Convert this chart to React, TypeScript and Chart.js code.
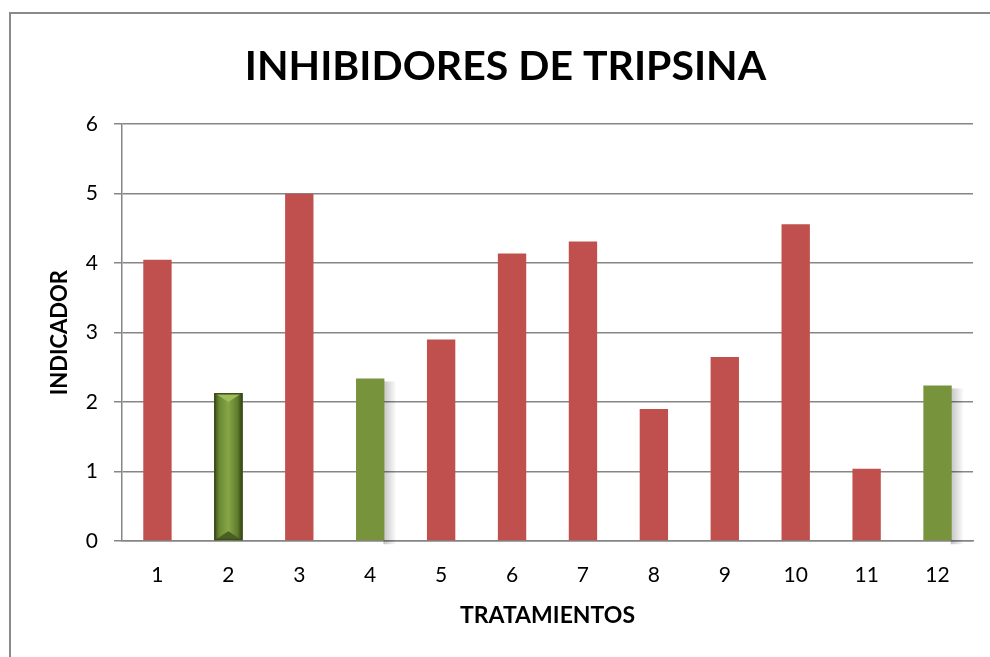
import React, { useEffect, useRef } from "react";
import { Chart, registerables } from "chart.js";

Chart.register(...registerables);

const TITLE = "INHIBIDORES DE TRIPSINA";
const X_TITLE = "TRATAMIENTOS";
const Y_TITLE = "INDICADOR";
const categories = ["1", "2", "3", "4", "5", "6", "7", "8", "9", "10", "11", "12"];
const values = [4.05, 2.13, 5.0, 2.34, 2.9, 4.14, 4.31, 1.9, 2.65, 4.56, 1.04, 2.24];
const barKinds = ["red", "bevel", "red", "shadow", "red", "red", "red", "red", "red", "red", "red", "shadow"];
const yTicks = [0, 1, 2, 3, 4, 5, 6];

const RED = "#C0504D";
const GREEN = "#77933C";
const FONT = "Lato, 'Open Sans', sans-serif";

const effectsPlugin = {
  id: "barEffects",
  beforeDatasetsDraw(chart: any) {
    const ctx = chart.ctx;
    const meta = chart.getDatasetMeta(0);
    meta.data.forEach((bar: any, i: number) => {
      if (barKinds[i] !== "shadow") return;
      const { x, y, base, width } = bar.getProps(["x", "y", "base", "width"], true);
      const right = x + width / 2;
      ctx.save();
      for (let k = 0; k < 6; k++) {
        ctx.fillStyle = `rgba(0,0,0,${0.22 - k * 0.035})`;
        ctx.fillRect(right + k * 2 - 1, y + 3, 2, base - y + 1);
      }
      ctx.restore();
    });
  },
  afterDatasetsDraw(chart: any) {
    const ctx = chart.ctx;
    const meta = chart.getDatasetMeta(0);
    meta.data.forEach((bar: any, i: number) => {
      if (barKinds[i] !== "bevel") return;
      const { x, y, base, width } = bar.getProps(["x", "y", "base", "width"], true);
      const l = x - width / 2;
      const r = x + width / 2;
      const h = base - y;
      ctx.save();
      const g = ctx.createLinearGradient(l, 0, r, 0);
      g.addColorStop(0, "#3a4a1b");
      g.addColorStop(0.18, "#6a8a32");
      g.addColorStop(0.5, "#86a648");
      g.addColorStop(0.82, "#5f7d2b");
      g.addColorStop(1, "#2f3d15");
      ctx.fillStyle = g;
      ctx.fillRect(l, y, width, h);
      ctx.fillStyle = "#9cbd5a";
      ctx.beginPath();
      ctx.moveTo(l + 2, y + 1);
      ctx.lineTo(r - 2, y + 1);
      ctx.lineTo(x, y + 9);
      ctx.closePath();
      ctx.fill();
      ctx.fillStyle = "#4a5f22";
      ctx.beginPath();
      ctx.moveTo(l + 2, base - 1);
      ctx.lineTo(r - 2, base - 1);
      ctx.lineTo(x, base - 9);
      ctx.closePath();
      ctx.fill();
      ctx.strokeStyle = "#3d4d1c";
      ctx.lineWidth = 1.5;
      ctx.strokeRect(l + 0.75, y + 0.75, width - 1.5, h - 1.5);
      ctx.restore();
    });
  },
};

export default function App() {
  const ref = useRef<HTMLCanvasElement | null>(null);

  useEffect(() => {
    document.body.style.margin = "0";
    document.body.style.overflow = "hidden";
    const canvas = ref.current!;
    const chart = new Chart(canvas, {
      type: "bar",
      data: {
        labels: categories,
        datasets: [
          {
            data: values,
            backgroundColor: barKinds.map((k) => (k === "red" ? RED : GREEN)),
            borderWidth: 0,
            categoryPercentage: 1,
            barPercentage: 0.4,
          },
        ],
      },
      options: {
        animation: false,
        responsive: false,
        layout: { padding: { left: 30, right: 17, top: 0, bottom: 0 } },
        plugins: {
          legend: { display: false },
          tooltip: { enabled: false },
          title: {
            display: true,
            text: TITLE,
            color: "#000",
            font: { family: FONT, size: 41, weight: "bold" },
            padding: { top: 34, bottom: 33 },
          },
        },
        scales: {
          x: {
            grid: { display: false, drawTicks: false },
            border: { display: true, color: "#868686", width: 1.5 },
            ticks: {
              color: "#000",
              font: { family: FONT, size: 21 },
              padding: 22,
              maxRotation: 0,
            },
            title: {
              display: true,
              text: X_TITLE,
              color: "#000",
              font: { family: FONT, size: 23, weight: "bold" },
              padding: { top: 0, bottom: 28 },
            },
            afterFit(scale: any) {
              scale.height = 116;
            },
          },
          y: {
            min: 0,
            max: 6,
            afterBuildTicks(scale: any) {
              scale.ticks = yTicks.map((v) => ({ value: v }));
            },
            grid: {
              color: "#868686",
              lineWidth: 1.5,
              drawTicks: true,
              tickLength: 8,
            },
            border: { display: true, color: "#868686", width: 1.5 },
            ticks: {
              color: "#000",
              font: { family: FONT, size: 21 },
              padding: 16,
            },
            title: {
              display: true,
              text: Y_TITLE,
              color: "#000",
              font: { family: FONT, size: 22, weight: "bold" },
              padding: { top: 9, bottom: 0 },
            },
            afterFit(scale: any) {
              scale.width = 84;
            },
          },
        },
      },
      plugins: [effectsPlugin],
    });
    return () => chart.destroy();
  }, []);

  return (
    <div style={{ position: "relative", width: 990, height: 657, overflow: "hidden", background: "#fff" }}>
      <div style={{ position: "absolute", left: 9, top: 12, width: 981, height: 2, background: "#8a8a8a" }} />
      <div style={{ position: "absolute", left: 9, top: 12, width: 2, height: 645, background: "#8a8a8a" }} />
      <canvas
        ref={ref}
        width={982}
        height={649}
        style={{ position: "absolute", left: 8, top: 8, width: 982, height: 649 }}
      />
    </div>
  );
}
